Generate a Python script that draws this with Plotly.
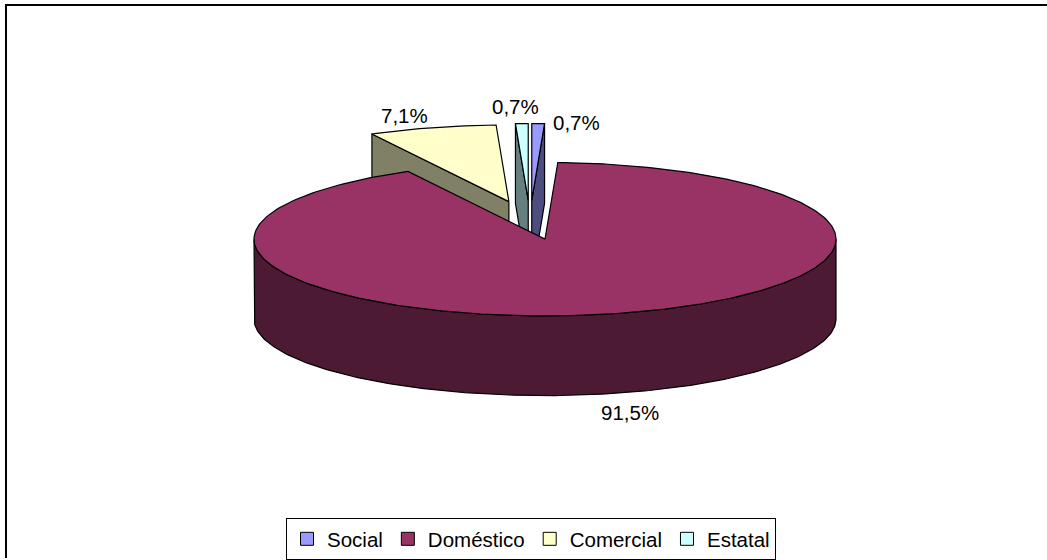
import math
import plotly.graph_objects as go

# ---- data ----
labels = ["Social", "Doméstico", "Comercial", "Estatal"]
values = [0.7, 91.5, 7.1, 0.7]
pulled = [1, 0, 1, 1]

# ---- style ----
top_colors = ["#9999FF", "#993366", "#FFFFCC", "#CCFFFF"]
side_colors = ["#4D4D80", "#4D1A33", "#808066", "#668080"]
CX, CY, RX, RY, DEPTH = 545, 240, 291, 77, 80
EXP_SKEW, EXP_X, EXP_Y = -15, 80, 39
LABEL_R = 1.1
label_nudge = [(38, 7), (14, 11), (-20, -5), (-6, -9)]
FONT = "Liberation Sans, Arial, sans-serif"
FONT_SIZE = 20.5

total = sum(values)
starts, ends = [], []
acc = 0.0
for v in values:
    starts.append(acc / total * 360.0)
    acc += v
    ends.append(acc / total * 360.0)


def pt(theta, ox, oy, down=0.0, r=1.0):
    t = math.radians(theta)
    return CX + ox + r * RX * math.sin(t), CY + oy - r * RY * math.cos(t) + down


def arc(a, b, ox, oy, down=0.0):
    n = max(2, int(abs(b - a)) + 1)
    return [pt(a + (b - a) * i / (n - 1), ox, oy, down) for i in range(n)]


def offsets(i):
    if not pulled[i]:
        return 0.0, 0.0
    mid = math.radians((starts[i] + ends[i]) / 2)
    return EXP_SKEW + EXP_X * math.sin(mid), -EXP_Y * math.cos(mid)


fig = go.Figure()


def poly(points, fill):
    xs = [p[0] for p in points] + [points[0][0]]
    ys = [p[1] for p in points] + [points[0][1]]
    fig.add_trace(go.Scatter(x=xs, y=ys, mode="lines", fill="toself",
                             fillcolor=fill, line=dict(color="black", width=1.2),
                             showlegend=False, hoverinfo="skip"))


order = [i for i in range(len(values)) if pulled[i]] + [i for i in range(len(values)) if not pulled[i]]
for i in order:
    s, e = starts[i], ends[i]
    ox, oy = offsets(i)
    apex = (CX + ox, CY + oy)
    apex_d = (CX + ox, CY + oy + DEPTH)
    # cut faces
    if math.sin(math.radians(s)) < -1e-9:
        p, pd = pt(s, ox, oy), pt(s, ox, oy, DEPTH)
        poly([apex, p, pd, apex_d], side_colors[i])
    if math.sin(math.radians(e)) > 1e-9:
        p, pd = pt(e, ox, oy), pt(e, ox, oy, DEPTH)
        poly([apex, p, pd, apex_d], side_colors[i])
    # outer curved side (front half only)
    a, b = max(s, 90.0), min(e, 270.0)
    if b > a:
        poly(arc(a, b, ox, oy) + arc(b, a, ox, oy, DEPTH), side_colors[i])
    # top face
    poly([apex] + arc(s, e, ox, oy), top_colors[i])

# data labels
for i in range(len(values)):
    mid = (starts[i] + ends[i]) / 2
    ox, oy = offsets(i)
    down = DEPTH if math.cos(math.radians(mid)) < 0 else 0
    x, y = pt(mid, ox, oy, down, LABEL_R)
    txt = f"{values[i]:.1f}".replace(".", ",") + "%"
    fig.add_annotation(x=x + label_nudge[i][0], y=y + label_nudge[i][1], text=txt,
                       showarrow=False, xanchor="center", yanchor="middle",
                       font=dict(family=FONT, size=FONT_SIZE, color="black"))

# legend entries
for i in range(len(values)):
    fig.add_trace(go.Scatter(x=[None], y=[None], mode="markers", name=labels[i],
                             marker=dict(symbol="square", size=13, color=top_colors[i],
                                         line=dict(color="black", width=1))))

# outer chart border
fig.add_shape(type="rect", x0=6, y0=5, x1=1070, y1=590,
              line=dict(color="black", width=2), fillcolor="rgba(0,0,0,0)")

fig.update_layout(
    width=1047, height=560, margin=dict(l=0, r=0, t=0, b=0),
    paper_bgcolor="white", plot_bgcolor="white",
    xaxis=dict(range=[0, 1047], visible=False, fixedrange=True),
    yaxis=dict(range=[560, 0], visible=False, fixedrange=True),
    showlegend=True,
    legend=dict(orientation="h", x=531 / 1047, xanchor="center", y=1 - 541 / 560,
                yanchor="middle", bordercolor="black", borderwidth=1, bgcolor="white",
                font=dict(family=FONT, size=FONT_SIZE, color="black"), itemwidth=30),
    font=dict(family=FONT),
)

fig.write_html("out.html", config={"displayModeBar": False},
               post_script="document.body.style.margin='0';document.body.style.overflow='hidden';")
